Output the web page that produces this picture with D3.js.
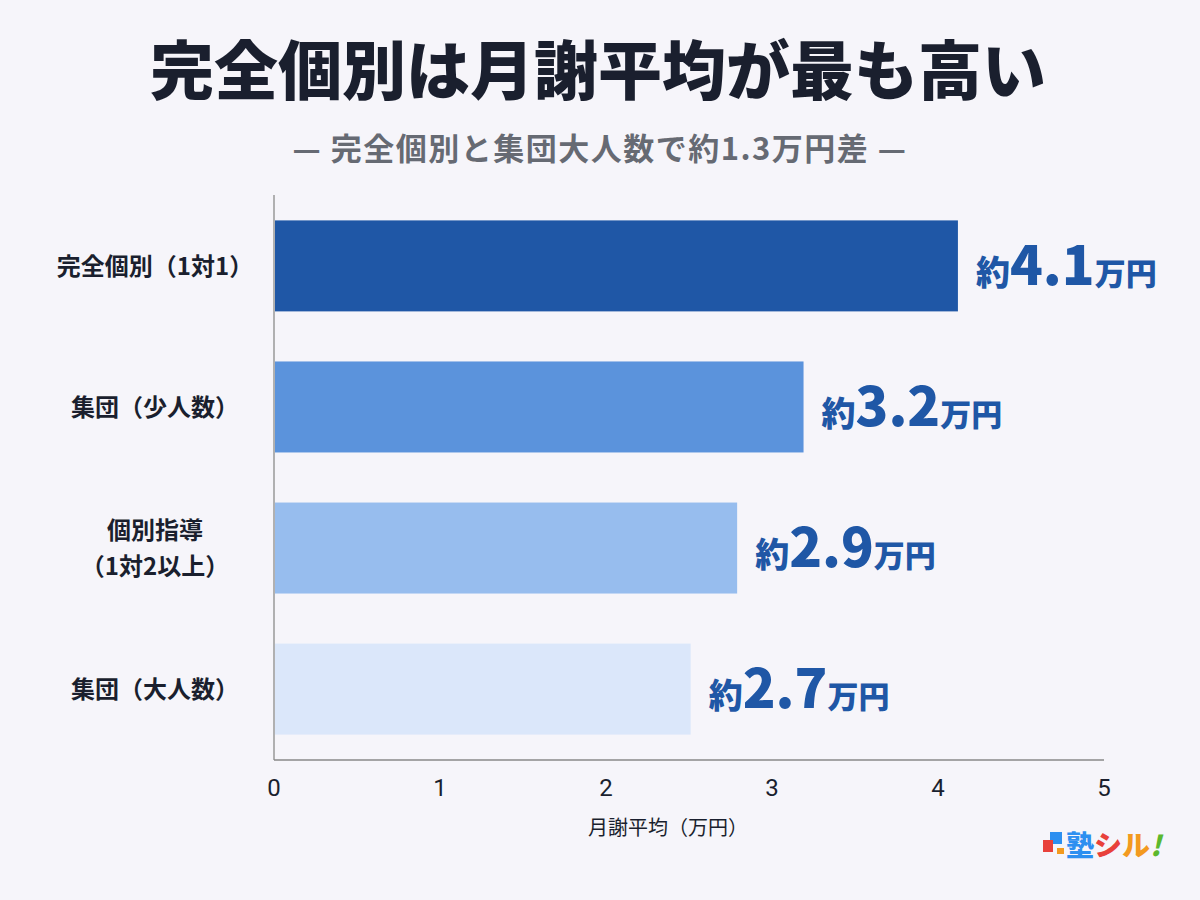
<!DOCTYPE html>
<html><head><meta charset="utf-8">
<script src="https://cdn.jsdelivr.net/npm/d3@7"></script>
<style>body{margin:0;background:#f6f5fa;}svg{display:block;font-family:"Noto Sans CJK JP","Noto Sans",sans-serif;}</style>
</head><body><svg id="c" width="1200" height="900"></svg>
<script>
const categories = [["完全個別（1対1）"],["集団（少人数）"],["個別指導","（1対2以上）"],["集団（大人数）"]];
const values = [4.12, 3.19, 2.79, 2.51];
const valueLabels = ["4.1","3.2","2.9","2.7"];
const colors = ["#1f57a6","#5b93dc","#97bdee","#dbe7fa"];
const ticks = [0,1,2,3,4,5];

const svg = d3.select("#c");
svg.append("rect").attr("width",1200).attr("height",900).attr("fill","#f6f5fa");
svg.append("text").attr("x",598).attr("y",94).attr("text-anchor","middle").attr("font-size",64).attr("font-weight",900).attr("fill","#1a1f2e").text("完全個別は月謝平均が最も高い");
svg.append("text").attr("x",600).attr("y",160).attr("text-anchor","middle").attr("font-size",31).attr("font-weight",700).attr("letter-spacing",1.5).attr("fill","#666a73").text("— 完全個別と集団大人数で約1.3万円差 —");

const x = d3.scaleLinear().domain([0,5]).range([274,1104]);
const y = d3.scaleBand().domain(d3.range(4)).range([195,760]).paddingInner(0.355).paddingOuter(0.18);

svg.append("line").attr("x1",274).attr("x2",274).attr("y1",195).attr("y2",760).attr("stroke","#999").attr("stroke-width",1.5);
svg.append("line").attr("x1",274).attr("x2",1104).attr("y1",760).attr("y2",760).attr("stroke","#888").attr("stroke-width",1.5);

svg.selectAll("rect.bar").data(values).join("rect").attr("class","bar")
  .attr("x",x(0)+1).attr("y",(d,i)=>y(i)).attr("height",y.bandwidth())
  .attr("width",d=>x(d)-x(0)-1).attr("fill",(d,i)=>colors[i]);

categories.forEach((c,i)=>{
  const cy = y(i)+y.bandwidth()/2;
  const t = svg.append("text").attr("text-anchor","middle").attr("font-size",24).attr("font-weight",700).attr("fill","#1a1f2e");
  const off = (c.length-1)*18;
  c.forEach((line,j)=>t.append("tspan").attr("x",155).attr("y",cy+9-off+j*36).text(line));
});

values.forEach((v,i)=>{
  const cy = y(i)+y.bandwidth()/2;
  const t = svg.append("text").attr("x",x(v)+18).attr("y",cy+19).attr("fill","#1f57a6").attr("font-weight",900);
  t.append("tspan").attr("font-size",34).text("約");
  t.append("tspan").attr("font-size",54).text(valueLabels[i]);
  t.append("tspan").attr("font-size",31).text("万円");
});

svg.selectAll("text.tick").data(ticks).join("text").attr("class","tick")
  .attr("x",d=>x(d)).attr("y",796).attr("text-anchor","middle").attr("font-size",24).attr("fill","#1a1f2e").attr("font-family","Roboto,sans-serif").text(d=>d);
svg.append("text").attr("x",668).attr("y",835).attr("text-anchor","middle").attr("font-size",20).attr("fill","#1a1f2e").text("月謝平均（万円）");

const lg = svg.append("g").attr("font-weight",900).attr("font-size",28);
lg.append("rect").attr("x",1050).attr("y",832).attr("width",12).attr("height",12).attr("fill","#2d8ff0");
lg.append("rect").attr("x",1043).attr("y",840).attr("width",10).attr("height",12).attr("fill","#e8413b");
lg.append("rect").attr("x",1057).attr("y",848).attr("width",7).attr("height",6).attr("fill","#f39a1f");
const lt = lg.append("text").attr("x",1066).attr("y",856);
lt.append("tspan").attr("fill","#2d8ff0").text("塾");
lt.append("tspan").attr("fill","#e8413b").text("シ");
lt.append("tspan").attr("fill","#f39a1f").text("ル");
lt.append("tspan").attr("fill","#5bb82e").attr("font-style","italic").text("!");
</script></body></html>
